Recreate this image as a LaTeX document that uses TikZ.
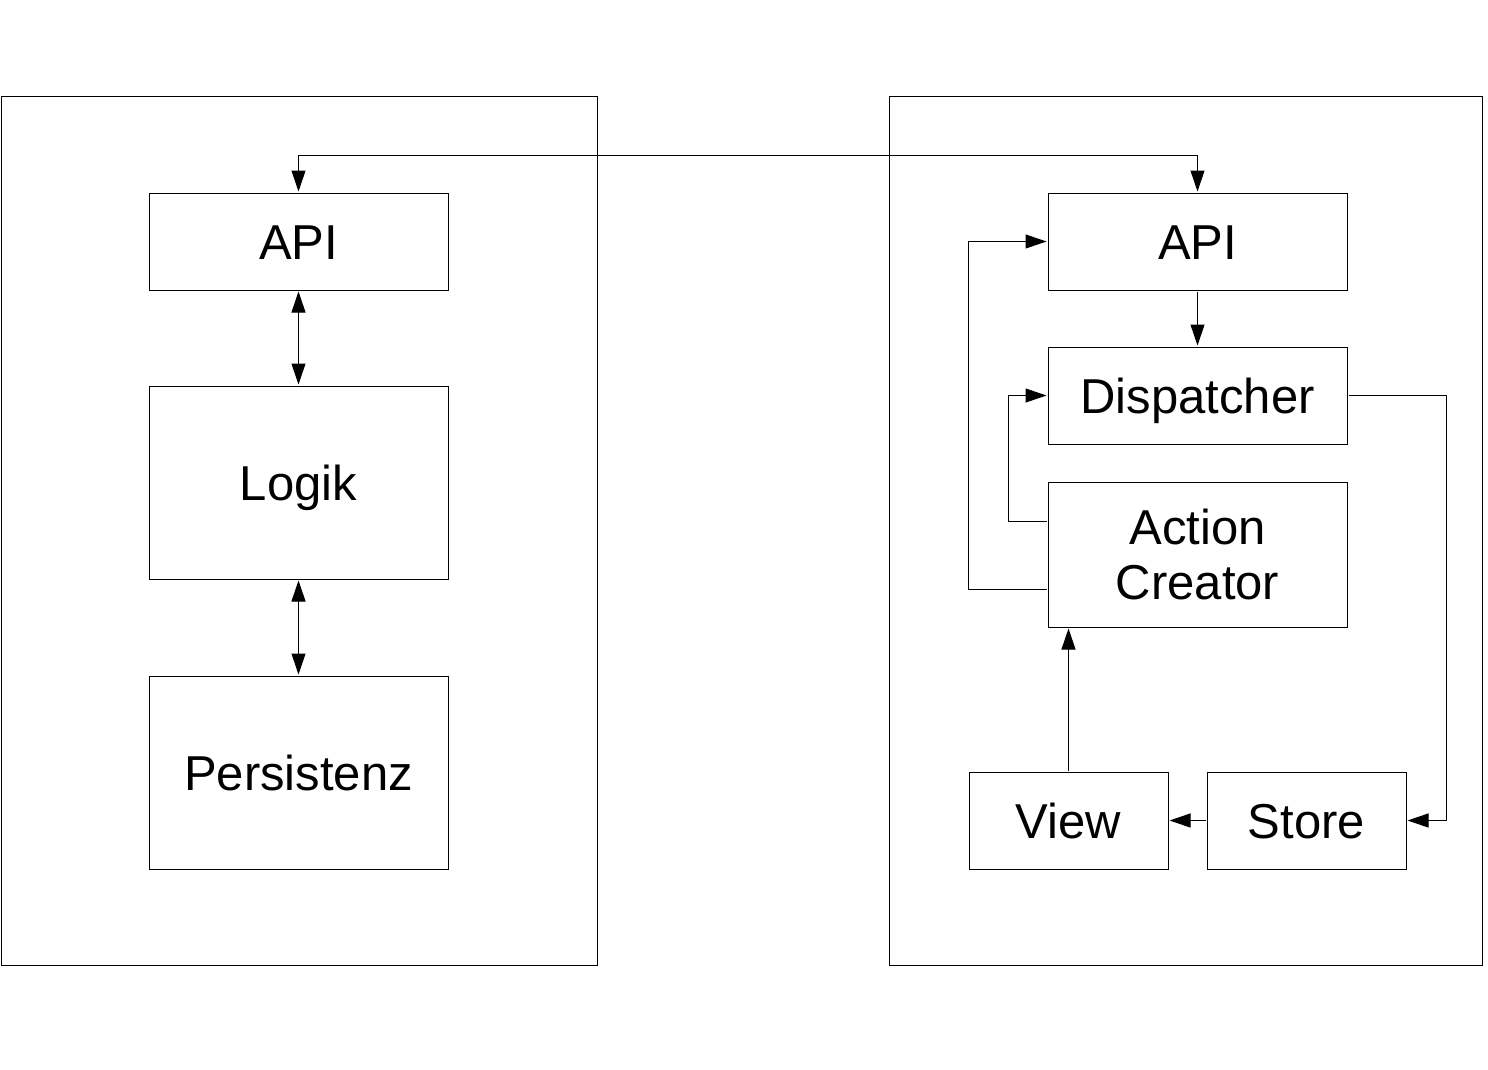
\documentclass[tikz,border=0pt]{standalone}
\usepackage{fontspec}
\setmainfont{Liberation Sans}
\usetikzlibrary{arrows.meta}
\begin{document}
\begin{tikzpicture}[x=1pt,y=-1pt,
  box/.style={draw,line width=1pt,inner sep=0pt,align=center,
    font=\fontsize{49}{55}\selectfont},
  oneline/.style={box,text height=35pt,text depth=0pt},
  frame/.style={draw,line width=1pt},
  conn/.style={line width=1pt,shorten >=1pt,shorten <=1pt,
    >={Triangle[length=21pt,width=14pt]}}]
\useasboundingbox (0,0) rectangle (1488,1070);
\draw[frame] (1,97) rectangle (597,965);
\draw[frame] (889,97) rectangle (1482,965);
\node[oneline,minimum width=299pt,minimum height=97pt] (lapi) at (298.5,241.5) {API};
\node[oneline,minimum width=299pt,minimum height=193pt] (logik) at (298.5,482.5) {Logik};
\node[oneline,minimum width=299pt,minimum height=193pt] (pers) at (298.5,772.5) {Persistenz};
\node[oneline,minimum width=299pt,minimum height=97pt] (rapi) at (1197.5,241.5) {API};
\node[oneline,minimum width=299pt,minimum height=97pt] (disp) at (1197.5,395.5) {Dispatcher};
\node[box,minimum width=299pt,minimum height=145pt] (ac) at (1197.5,554.5) {Action\\Creator};
\node[oneline,minimum width=199pt,minimum height=97pt] (view) at (1068.5,820.5) {View};
\node[oneline,minimum width=199pt,minimum height=97pt] (store) at (1306.5,820.5) {Store};
\coordinate (top) at (298.5,155);
\draw[conn,<->] (lapi.north) -- (top) -| (rapi.north);
\draw[conn,<->] (lapi) -- (logik);
\draw[conn,<->] (logik) -- (pers);
\draw[conn,->] (rapi) -- (disp);
\draw[conn,->] (disp.east) -- ++(99,0) |- (store.east);
\draw[conn,->] (store) -- (view);
\draw[conn,->] (view.north) -- (view.north |- ac.south);
\draw[conn,->] ([yshift=33.5pt]ac.west) -- ++(-39,0) |- (disp.west);
\draw[conn,->] ([yshift=-34.5pt]ac.west) -- ++(-79,0) |- (rapi.west);
\end{tikzpicture}
\end{document}
